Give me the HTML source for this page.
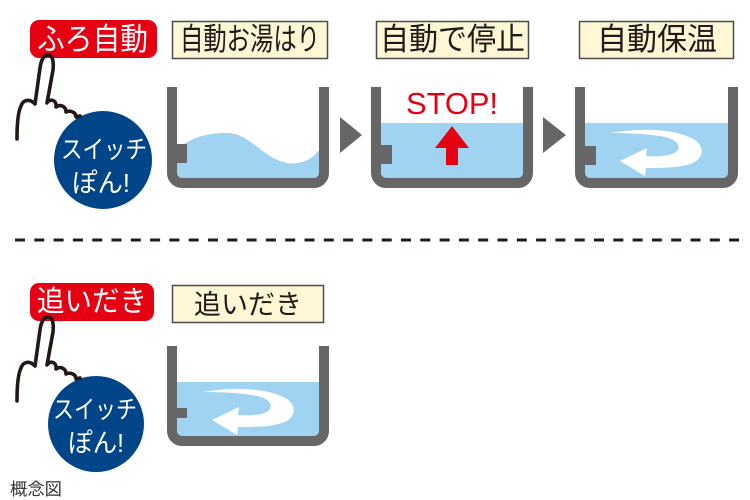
<!DOCTYPE html>
<html><head><meta charset="utf-8">
<style>
html,body{margin:0;padding:0;background:#fff;}
svg{display:block;}
text{font-family:"Liberation Sans","Noto Sans CJK JP",sans-serif;}
</style></head>
<body>
<svg width="750" height="500" viewBox="0 0 750 500" xmlns="http://www.w3.org/2000/svg">
<defs>
  <path id="swirl" d="M610 133 C640 128,675 128,695 140 C706 148,703 160,690 164 C678 168,660 168,646 168 L645 176 L620 161 L647 148 L646 156 C660 157,672 156,677 151 C682 145,675 139,665 137 C650 134,630 133,610 133 Z" fill="#fff"/>
</defs>

<!-- ===== Top row ===== -->
<rect x="30" y="20" width="127" height="38" rx="9" fill="#e50012"/>
<text x="37" y="50" font-size="31" fill="#fff" textLength="111" lengthAdjust="spacingAndGlyphs">ふろ自動</text>

<circle cx="103" cy="160" r="49" fill="#004588"/>
<text x="104" y="158" font-size="25" fill="#fff" text-anchor="middle" textLength="86" lengthAdjust="spacingAndGlyphs">スイッチ</text>
<text x="101" y="192" font-size="26" fill="#fff" text-anchor="middle" textLength="58" lengthAdjust="spacingAndGlyphs">ぽん!</text>

<path d="M17 139 C17 125,18 112,21 106 C23 100,29 98,35 104 L40 68 C41 60,44 55,48 55 C52 55,54 60,53 70 L47 103 C50 98,57 100,56 107 C60 104,66 106,66 112 C70 110,76 112,76 117 L80 116" fill="none" stroke="#231815" stroke-width="3.6" stroke-linejoin="round" stroke-linecap="round"/>

<rect x="172.5" y="21.5" width="155" height="37" fill="#fdf7d6" stroke="#4d4d4d" stroke-width="1.5"/>
<text x="180" y="50" font-size="31" fill="#231815" textLength="140" lengthAdjust="spacingAndGlyphs">自動お湯はり</text>
<rect x="376.5" y="21.5" width="152" height="37" fill="#fdf7d6" stroke="#4d4d4d" stroke-width="1.5"/>
<text x="380" y="50" font-size="31" fill="#231815" textLength="145" lengthAdjust="spacingAndGlyphs">自動で停止</text>
<rect x="579.5" y="21.5" width="154" height="37" fill="#fdf7d6" stroke="#4d4d4d" stroke-width="1.5"/>
<text x="597" y="50" font-size="31" fill="#231815" textLength="120" lengthAdjust="spacingAndGlyphs">自動保温</text>

<!-- tub 1 -->
<path d="M177 150 C190 138,205 133,227 133 C250 133,262 158,287 163 C300 165,312 160,319 150 V181 H177 Z" fill="#9fd3f1"/>
<path d="M172 87 V173 A10 10 0 0 0 182 183 H314 A10 10 0 0 0 324 173 V87" fill="none" stroke="#666" stroke-width="10"/>
<rect x="177" y="144" width="10" height="19" fill="#666"/>

<polygon points="340,117 362,135 340,153" fill="#666"/>

<!-- tub 2 -->
<rect x="381" y="123" width="142" height="58" fill="#9fd3f1"/>
<path d="M376 87 V173 A10 10 0 0 0 386 183 H518 A10 10 0 0 0 528 173 V87" fill="none" stroke="#666" stroke-width="10"/>
<rect x="381" y="145" width="11" height="19" fill="#666"/>
<text x="406" y="114" font-size="31" fill="#e50012" textLength="92" lengthAdjust="spacingAndGlyphs">STOP!</text>
<polygon points="452,126 469,148 458,148 458,165 446,165 446,148 435,148" fill="#e50012"/>

<polygon points="543,117 566,135 543,153" fill="#666"/>

<!-- tub 3 -->
<rect x="585" y="123" width="143" height="58" fill="#9fd3f1"/>
<use href="#swirl"/>
<path d="M580 87 V173 A10 10 0 0 0 590 183 H723 A10 10 0 0 0 733 173 V87" fill="none" stroke="#666" stroke-width="10"/>
<rect x="585" y="146" width="11" height="19" fill="#666"/>

<line x1="15" y1="240" x2="742" y2="240" stroke="#231815" stroke-width="3" stroke-dasharray="10 9.3"/>

<!-- ===== Bottom row ===== -->
<rect x="30" y="283" width="124" height="38" rx="9" fill="#e50012"/>
<text x="37" y="311" font-size="29" fill="#fff" textLength="110" lengthAdjust="spacingAndGlyphs">追いだき</text>

<circle cx="96" cy="424" r="48" fill="#004588"/>
<text x="95" y="418" font-size="25" fill="#fff" text-anchor="middle" textLength="84" lengthAdjust="spacingAndGlyphs">スイッチ</text>
<text x="96" y="452" font-size="26" fill="#fff" text-anchor="middle" textLength="56" lengthAdjust="spacingAndGlyphs">ぽん!</text>

<g transform="translate(0,262)">
<path d="M17 139 C17 125,18 112,21 106 C23 100,29 98,35 104 L40 68 C41 60,44 55,48 55 C52 55,54 60,53 70 L47 103 C50 98,57 100,56 107 C60 104,66 106,66 112 C70 110,76 112,76 117 L80 116" fill="none" stroke="#231815" stroke-width="3.6" stroke-linejoin="round" stroke-linecap="round"/>
</g>

<rect x="172.5" y="285.5" width="151" height="37" fill="#fdf7d6" stroke="#4d4d4d" stroke-width="1.5"/>
<text x="194" y="314" font-size="27" fill="#231815" textLength="108" lengthAdjust="spacingAndGlyphs">追いだき</text>

<!-- tub 4 -->
<rect x="177" y="382" width="142" height="57" fill="#9fd3f1"/>
<g transform="translate(-408,259)"><use href="#swirl"/></g>
<path d="M172 346 V431 A10 10 0 0 0 182 441 H314 A10 10 0 0 0 324 431 V346" fill="none" stroke="#666" stroke-width="10"/>
<rect x="177" y="408" width="10" height="10" fill="#666"/>

<text x="10" y="495" font-size="17" fill="#333" textLength="52" lengthAdjust="spacingAndGlyphs">概念図</text>
</svg>
</body></html>
